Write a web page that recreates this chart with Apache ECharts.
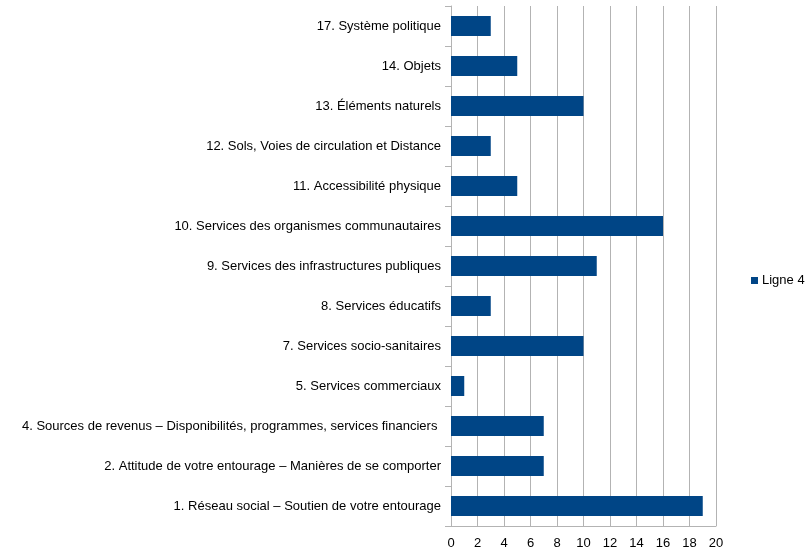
<!DOCTYPE html>
<html>
<head>
<meta charset="utf-8">
<script src="https://cdn.jsdelivr.net/npm/echarts@6/dist/echarts.min.js"></script>
<style>
  html, body { margin: 0; padding: 0; background: #fff; }
  #chart { width: 808px; height: 551px; }
</style>
</head>
<body>
<div id="chart"></div>
<script>
// catégories, de bas en haut
const categories = [
  '1. Réseau social – Soutien de votre entourage',
  '2. Attitude de votre entourage – Manières de se comporter',
  '4. Sources de revenus – Disponibilités, programmes, services financiers ',
  '5. Services commerciaux',
  '7. Services socio-sanitaires',
  '8. Services éducatifs',
  '9. Services des infrastructures publiques',
  '10. Services des organismes communautaires',
  '11. Accessibilité physique',
  '12. Sols, Voies de circulation et Distance',
  '13. Éléments naturels',
  '14. Objets',
  '17. Système politique'
]
const ligne4 = [19, 7, 7, 1, 10, 3, 11, 16, 5, 3, 10, 5, 3]
const seriesName = 'Ligne 4'

const chart = echarts.init(document.getElementById('chart'))

chart.setOption({
  animation: false,
  textStyle: { fontFamily: 'Liberation Sans, Arial, sans-serif' },
  grid: { left: 451, right: 92, top: 6, bottom: 25 },
  legend: {
    data: [seriesName],
    left: 751,
    top: 274,
    padding: 0,
    itemWidth: 7,
    itemHeight: 7,
    itemGap: 4,
    icon: 'rect',
    textStyle: { fontSize: 13, color: '#000', padding: [0, 0, 0, -1] }
  },
  xAxis: {
    type: 'value',
    min: 0,
    max: 20,
    interval: 2,
    axisLine: { show: true, lineStyle: { color: '#b3b3b3' } },
    axisTick: { show: false },
    axisLabel: { color: '#000', fontSize: 13, margin: 11 },
    splitLine: { show: true, lineStyle: { color: '#b3b3b3', width: 1 } }
  },
  yAxis: {
    type: 'category',
    data: categories,
    axisLine: { show: true, lineStyle: { color: '#b3b3b3' } },
    axisTick: { show: true, length: 6, lineStyle: { color: '#b3b3b3' } },
    axisLabel: { color: '#000', fontSize: 13, margin: 10 }
  },
  series: [
    {
      name: seriesName,
      type: 'bar',
      data: ligne4,
      barWidth: '50%',
      itemStyle: { color: '#004586' }
    }
  ]
})
</script>
</body>
</html>
